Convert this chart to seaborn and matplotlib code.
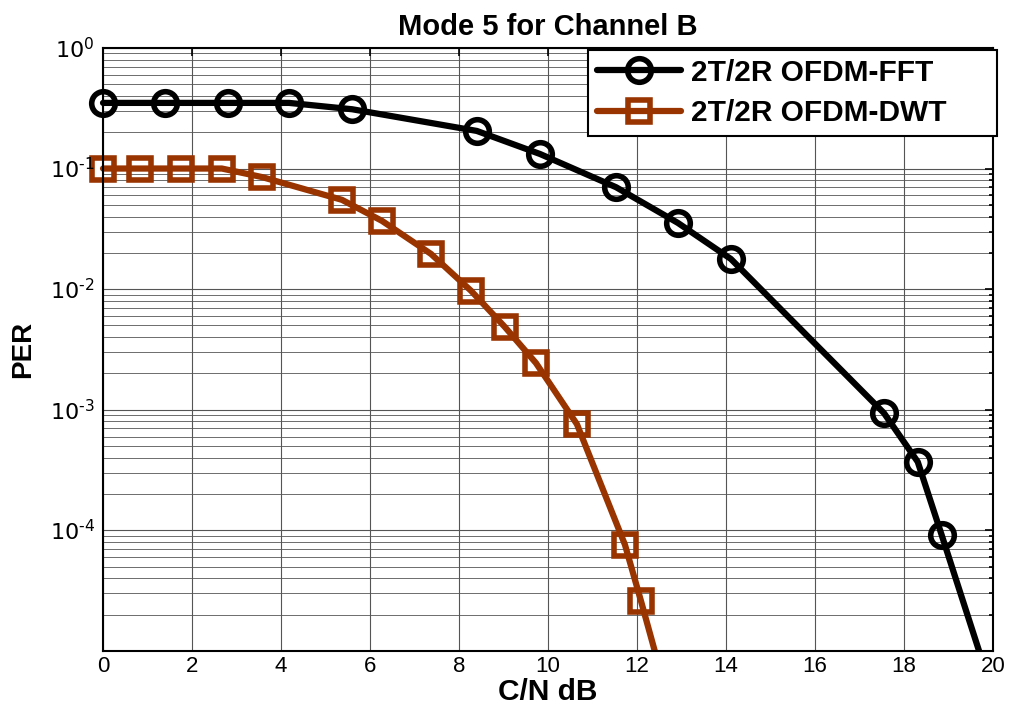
import matplotlib
matplotlib.use('Agg')
import matplotlib.pyplot as plt
import numpy as np
import seaborn as sns
from matplotlib.patches import Rectangle
from matplotlib.ticker import LogLocator, NullFormatter, FuncFormatter

# C/N (dB) and PER
cn_fft = [0, 1.39, 2.81, 4.18, 5.6, 8.4, 9.82, 11.53, 12.92, 14.11, 17.55, 18.31, 18.85, 20.2]
per_fft = [0.35, 0.35, 0.35, 0.35, 0.31, 0.205, 0.132, 0.070, 0.0354, 0.0178, 9.4e-4, 3.7e-4, 9.1e-5, 2.6e-6]

cn_dwt = [0, 0.83, 1.75, 2.67, 3.57, 5.37, 6.27, 7.37, 8.27, 9.03, 9.73, 10.65, 11.73, 12.09, 12.6]
per_dwt = [0.1, 0.1, 0.1, 0.1, 0.085, 0.055, 0.0368, 0.0196, 0.0097, 0.00486, 0.00244, 7.6e-4, 7.6e-5, 2.6e-5, 5.4e-6]

label_fft = '2T/2R OFDM-FFT'
label_dwt = '2T/2R OFDM-DWT'

sns.set_style('white')
plt.rcParams['font.family'] = ['Liberation Sans', 'DejaVu Sans']
plt.rcParams['text.color'] = 'black'
plt.rcParams['axes.labelcolor'] = 'black'

pos = [0.1017, 0.0895, 0.8785, 0.8435]
fig = plt.figure(figsize=(10.13, 7.15), dpi=100)

# grid lives on a back axes so tick labels can sit on top of the markers
ax_grid = fig.add_axes(pos)
ax = fig.add_axes(pos, facecolor='none')

for a in (ax_grid, ax):
    a.set_yscale('log')
    a.set_xlim(0, 20)
    a.set_ylim(1e-5, 1)
    a.set_xticks(np.arange(0, 21, 2))
    a.yaxis.set_major_locator(LogLocator(base=10, numticks=10))
    a.yaxis.set_minor_locator(LogLocator(base=10, subs=np.arange(2, 10), numticks=10))
    a.yaxis.set_minor_formatter(NullFormatter())

ax_grid.grid(True, which='major', axis='both', color='#555555', linewidth=0.8)
ax_grid.grid(True, which='minor', axis='y', color='#555555', linewidth=0.6)
ax_grid.tick_params(which='both', length=0, labelbottom=False, labelleft=False)
for s in ax_grid.spines.values():
    s.set_visible(False)

sns.lineplot(x=cn_fft, y=per_fft, ax=ax, color='black', linewidth=4.5, marker='o',
             markersize=17, markerfacecolor='none', markeredgewidth=4, markeredgecolor='black',
             label=label_fft, sort=False)
sns.lineplot(x=cn_dwt, y=per_dwt, ax=ax, color='#993300', linewidth=4.5, marker='s',
             markersize=16, markerfacecolor='none', markeredgewidth=4, markeredgecolor='#993300',
             label=label_dwt, sort=False)

# let markers spill over the left/top edge but keep the bottom clipped
for ln in ax.get_lines():
    ln.set_clip_path(Rectangle((-0.05, 0), 1.1, 1.1, transform=ax.transAxes))

ax.set_axisbelow(False)
ax.grid(False)


def exp_label(v, p):
    e = int(round(np.log10(v)))
    if e <= -5:
        return ''
    s = str(e).replace('-', '\u2010')
    return '$10^{%s}$' % s


ax.yaxis.set_major_formatter(FuncFormatter(exp_label))

ax.tick_params(which='both', direction='in', top=True, right=True, labelsize=16, colors='black')
ax.tick_params(which='major', length=6, width=1.2)
ax.tick_params(which='minor', length=3, width=1.2)
ax.tick_params(axis='y', pad=6)
for s in ax.spines.values():
    s.set_color('black')
    s.set_linewidth(1.5)

ax.set_title('Mode 5 for Channel B', fontsize=21, fontweight='bold', pad=9)
ax.set_xlabel('C/N dB', fontsize=21.5, fontweight='bold', labelpad=1)
ax.set_ylabel('PER', fontsize=20, fontweight='bold', labelpad=10)

leg = ax.legend(loc='upper left', fontsize=21.5, frameon=True, fancybox=False,
                edgecolor='black', framealpha=1, handlelength=2.8, handletextpad=0.35,
                borderaxespad=0, bbox_to_anchor=(0.545, 0.9967, 0.4595, 0), mode='expand',
                labelspacing=0.42, borderpad=0.3)
leg.get_frame().set_linewidth(1.5)
for t in leg.get_texts():
    t.set_fontweight('bold')

fig.savefig('out.png', dpi=100)
